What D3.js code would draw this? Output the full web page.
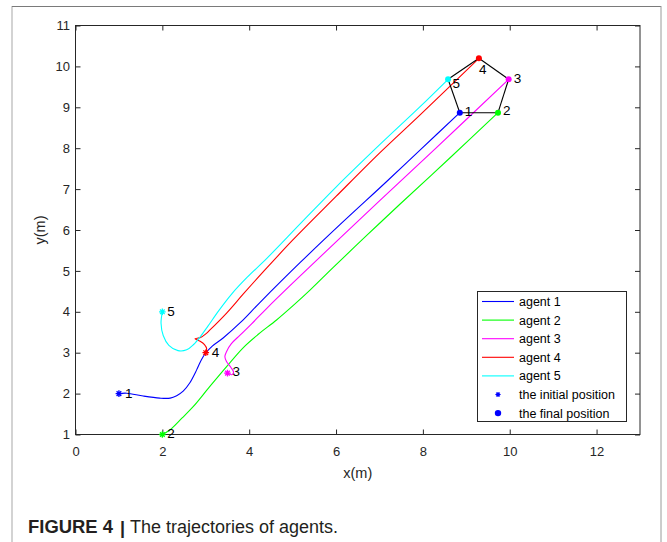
<!DOCTYPE html>
<html>
<head>
<meta charset="utf-8">
<script src="https://cdn.jsdelivr.net/npm/d3@7/dist/d3.min.js"></script>
<style>
  html, body { margin: 0; padding: 0; background: #fff; }
  svg { display: block; font-family: "Liberation Sans", Arial, Helvetica, sans-serif; }
</style>
</head>
<body>
<svg id="chart" width="667" height="542"></svg>
<script>
// ---------- data ----------
const agentNames = ["agent 1", "agent 2", "agent 3", "agent 4", "agent 5"];
const agentColors = ["#0000ff", "#00ff00", "#ff00ff", "#ff0000", "#00ffff"];

const traj1 = [[1,2],[1.18,2.01],[1.56,1.94],[1.94,1.89],[2.18,1.89],[2.33,1.95],[2.48,2.06],[2.63,2.26],[2.79,2.58],[2.9,2.83],[2.99,2.98],[3.15,3.16],[3.4,3.36],[3.8,3.74],[4.24,4.22],[5.17,5.2],[6.09,6.13],[7.16,7.18],[7.97,7.99],[8.85,8.868]];
const traj2 = [[2,1],[2.17,1.11],[2.45,1.4],[2.71,1.68],[3.09,2.17],[3.48,2.66],[3.86,3.12],[4.21,3.45],[4.63,3.8],[5.01,4.15],[5.4,4.53],[5.93,5.08],[6.7,5.86],[7.47,6.63],[8.62,7.76],[9.73,8.868]];
const traj3 = [[3.52,2.5],[3.6,2.46],[3.64,2.52],[3.58,2.64],[3.48,2.78],[3.44,2.9],[3.48,3.03],[3.59,3.22],[3.79,3.43],[4.05,3.7],[4.4,4.08],[5,4.7],[6,5.71],[7,6.71],[8.27,7.97],[9.975,9.685]];
const traj4 = [[3,3],[3.02,3.1],[2.97,3.2],[2.87,3.28],[2.75,3.34],[2.88,3.37],[3.0,3.46],[3.09,3.55],[3.48,3.97],[3.86,4.43],[4.3,4.95],[5,5.75],[6,6.82],[7,7.88],[7.93,8.81],[9.29,10.198]];
const traj5 = [[2,4],[1.97,3.72],[2.02,3.42],[2.15,3.18],[2.36,3.05],[2.56,3.07],[2.72,3.2],[2.88,3.4],[3.05,3.65],[3.3,4.03],[3.6,4.44],[3.95,4.84],[4.4,5.3],[5.2,6.18],[6,7.05],[7,8.08],[7.93,9.01],[8.58,9.685]];
const trajectories = [traj1, traj2, traj3, traj4, traj5];

const initialPos = [[1,2],[2,1],[3.5,2.5],[3,3],[2,4]];
const finalPos = [[8.85,8.868],[9.73,8.868],[9.975,9.685],[9.29,10.198],[8.58,9.685]];
const pointLabels = ["1","2","3","4","5"];
const formationEdges = [[0,1],[1,2],[2,3],[3,4],[4,0]];

const xTicks = [0,2,4,6,8,10,12];
const yTicks = [1,2,3,4,5,6,7,8,9,10,11];
const xDomain = [0,13];
const yDomain = [1,11];
const legendMarkerNames = ["the initial position", "the final position"];

// ---------- layout ----------
const svg = d3.select("#chart");
const L = 75.5, R = 640, T = 25.5, B = 434.5;
const x = d3.scaleLinear(xDomain, [L, R]);
const y = d3.scaleLinear(yDomain, [B, T]);
const axisColor = "#262626";

// figure frame
svg.append("line").attr("x1",12).attr("x2",12).attr("y1",6).attr("y2",542).attr("stroke","#c4c4c4").attr("stroke-width",1.5);
svg.append("line").attr("x1",12).attr("x2",661).attr("y1",6.5).attr("y2",6.5).attr("stroke","#7a7a7a").attr("stroke-width",1);
svg.append("line").attr("x1",661).attr("x2",661).attr("y1",6).attr("y2",542).attr("stroke","#9a9a9a").attr("stroke-width",1);

// axes
const tickFont = "13px";
const gB = svg.append("g").attr("transform",`translate(0,${B})`)
  .call(d3.axisBottom(x).tickValues(xTicks).tickSizeInner(-5).tickSizeOuter(0).tickPadding(12).tickFormat(d3.format("d")));
const gT = svg.append("g").attr("transform",`translate(0,${T})`)
  .call(d3.axisTop(x).tickValues(xTicks).tickSizeInner(-5).tickSizeOuter(0).tickFormat(""));
const gL = svg.append("g").attr("transform",`translate(${L},0)`)
  .call(d3.axisLeft(y).tickValues(yTicks).tickSizeInner(-5).tickSizeOuter(0).tickPadding(5.5).tickFormat(d3.format("d")));
const gR = svg.append("g").attr("transform",`translate(${R},0)`)
  .call(d3.axisRight(y).tickValues(yTicks).tickSizeInner(-5).tickSizeOuter(0).tickFormat(""));
[gB,gT,gL,gR].forEach(g => {
  g.select(".domain").remove();
  g.selectAll(".tick line").attr("stroke", axisColor);
  g.selectAll(".tick text").attr("fill", axisColor).style("font-size", tickFont).style("font-family", "'Liberation Sans', Arial, sans-serif");
});
svg.append("rect").attr("x",L).attr("y",T).attr("width",R-L).attr("height",B-T)
  .attr("fill","none").attr("stroke",axisColor).attr("stroke-width",1);

// axis labels
svg.append("text").attr("x",(L+R)/2).attr("y",478).attr("text-anchor","middle")
  .attr("fill",axisColor).style("font-size","14.5px").text("x(m)");
svg.append("text").attr("transform","translate(45,230) rotate(-90)").attr("text-anchor","middle")
  .attr("fill",axisColor).style("font-size","14.5px").text("y(m)");

// trajectories
const line = d3.line().x(d => x(d[0])).y(d => y(d[1])).curve(d3.curveCatmullRom.alpha(0.5));
const plot = svg.append("g");
trajectories.forEach((t,i) => {
  plot.append("path").attr("d", line(t)).attr("fill","none")
    .attr("stroke", agentColors[i]).attr("stroke-width",1.1);
});

// formation polygon
formationEdges.forEach(([a,b]) => {
  plot.append("line")
    .attr("x1", x(finalPos[a][0])).attr("y1", y(finalPos[a][1]))
    .attr("x2", x(finalPos[b][0])).attr("y2", y(finalPos[b][1]))
    .attr("stroke","#000").attr("stroke-width",1.1);
});

// asterisk marker
function asterisk(cx, cy, r) {
  const d = r*0.707;
  return `M${cx-r},${cy}L${cx+r},${cy}M${cx},${cy-r}L${cx},${cy+r}` +
         `M${cx-d},${cy-d}L${cx+d},${cy+d}M${cx-d},${cy+d}L${cx+d},${cy-d}`;
}

initialPos.forEach((p,i) => {
  plot.append("path").attr("d", asterisk(x(p[0]), y(p[1]), 3.3))
    .attr("stroke", agentColors[i]).attr("stroke-width",1.3).attr("fill","none");
});
finalPos.forEach((p,i) => {
  plot.append("circle").attr("cx", x(p[0])).attr("cy", y(p[1])).attr("r",3)
    .attr("fill", agentColors[i]);
});

// point labels
const labelFont = "13.5px";
const initOff = [[6,0],[5,-1],[5,-2],[6,-1],[5,-1]];
initialPos.forEach((p,i) => {
  svg.append("text").attr("x", x(p[0])+initOff[i][0]).attr("y", y(p[1])+initOff[i][1])
    .attr("dy","0.36em").attr("fill","#000").style("font-size",labelFont).text(pointLabels[i]);
});
const finOff = [[5,-1.5],[5,-2.5],[5,-1.5],[0,11],[4.5,3.5]];
finalPos.forEach((p,i) => {
  svg.append("text").attr("x", x(p[0])+finOff[i][0]).attr("y", y(p[1])+finOff[i][1])
    .attr("dy","0.36em").attr("fill","#000").style("font-size",labelFont).text(pointLabels[i]);
});

// legend
const lg = svg.append("g");
lg.append("rect").attr("x",477.5).attr("y",291.5).attr("width",149).attr("height",130)
  .attr("fill","#fff").attr("stroke",axisColor).attr("stroke-width",1);
const rowY = i => 301.5 + i*18.6;
agentNames.forEach((n,i) => {
  lg.append("line").attr("x1",482).attr("x2",514).attr("y1",rowY(i)).attr("y2",rowY(i))
    .attr("stroke",agentColors[i]).attr("stroke-width",1.1);
  lg.append("text").attr("x",519).attr("y",rowY(i)).attr("dy","0.36em")
    .attr("fill","#000").style("font-size","12.5px").text(n);
});
lg.append("path").attr("d", asterisk(498, rowY(5), 2.6)).attr("stroke",agentColors[0]).attr("stroke-width",1.2).attr("fill","none");
lg.append("circle").attr("cx",498).attr("cy",rowY(6)).attr("r",3.2).attr("fill",agentColors[0]);
legendMarkerNames.forEach((n,j) => {
  lg.append("text").attr("x",519).attr("y",rowY(5+j)).attr("dy","0.36em")
    .attr("fill","#000").style("font-size","12.5px").text(n);
});

// caption
svg.append("text").attr("x",28).attr("y",533).attr("fill","#231f20")
  .style("font-size","17.5px").style("font-weight","bold")
  .attr("textLength",85).attr("lengthAdjust","spacingAndGlyphs").text("FIGURE 4");
svg.append("text").attr("x",120).attr("y",534).attr("fill","#231f20")
  .style("font-size","18px").style("font-weight","bold").text("|");
svg.append("text").attr("x",130).attr("y",533).attr("fill","#231f20")
  .style("font-size","17.5px").attr("textLength",208).attr("lengthAdjust","spacingAndGlyphs")
  .text("The trajectories of agents.");
</script>
</body>
</html>
